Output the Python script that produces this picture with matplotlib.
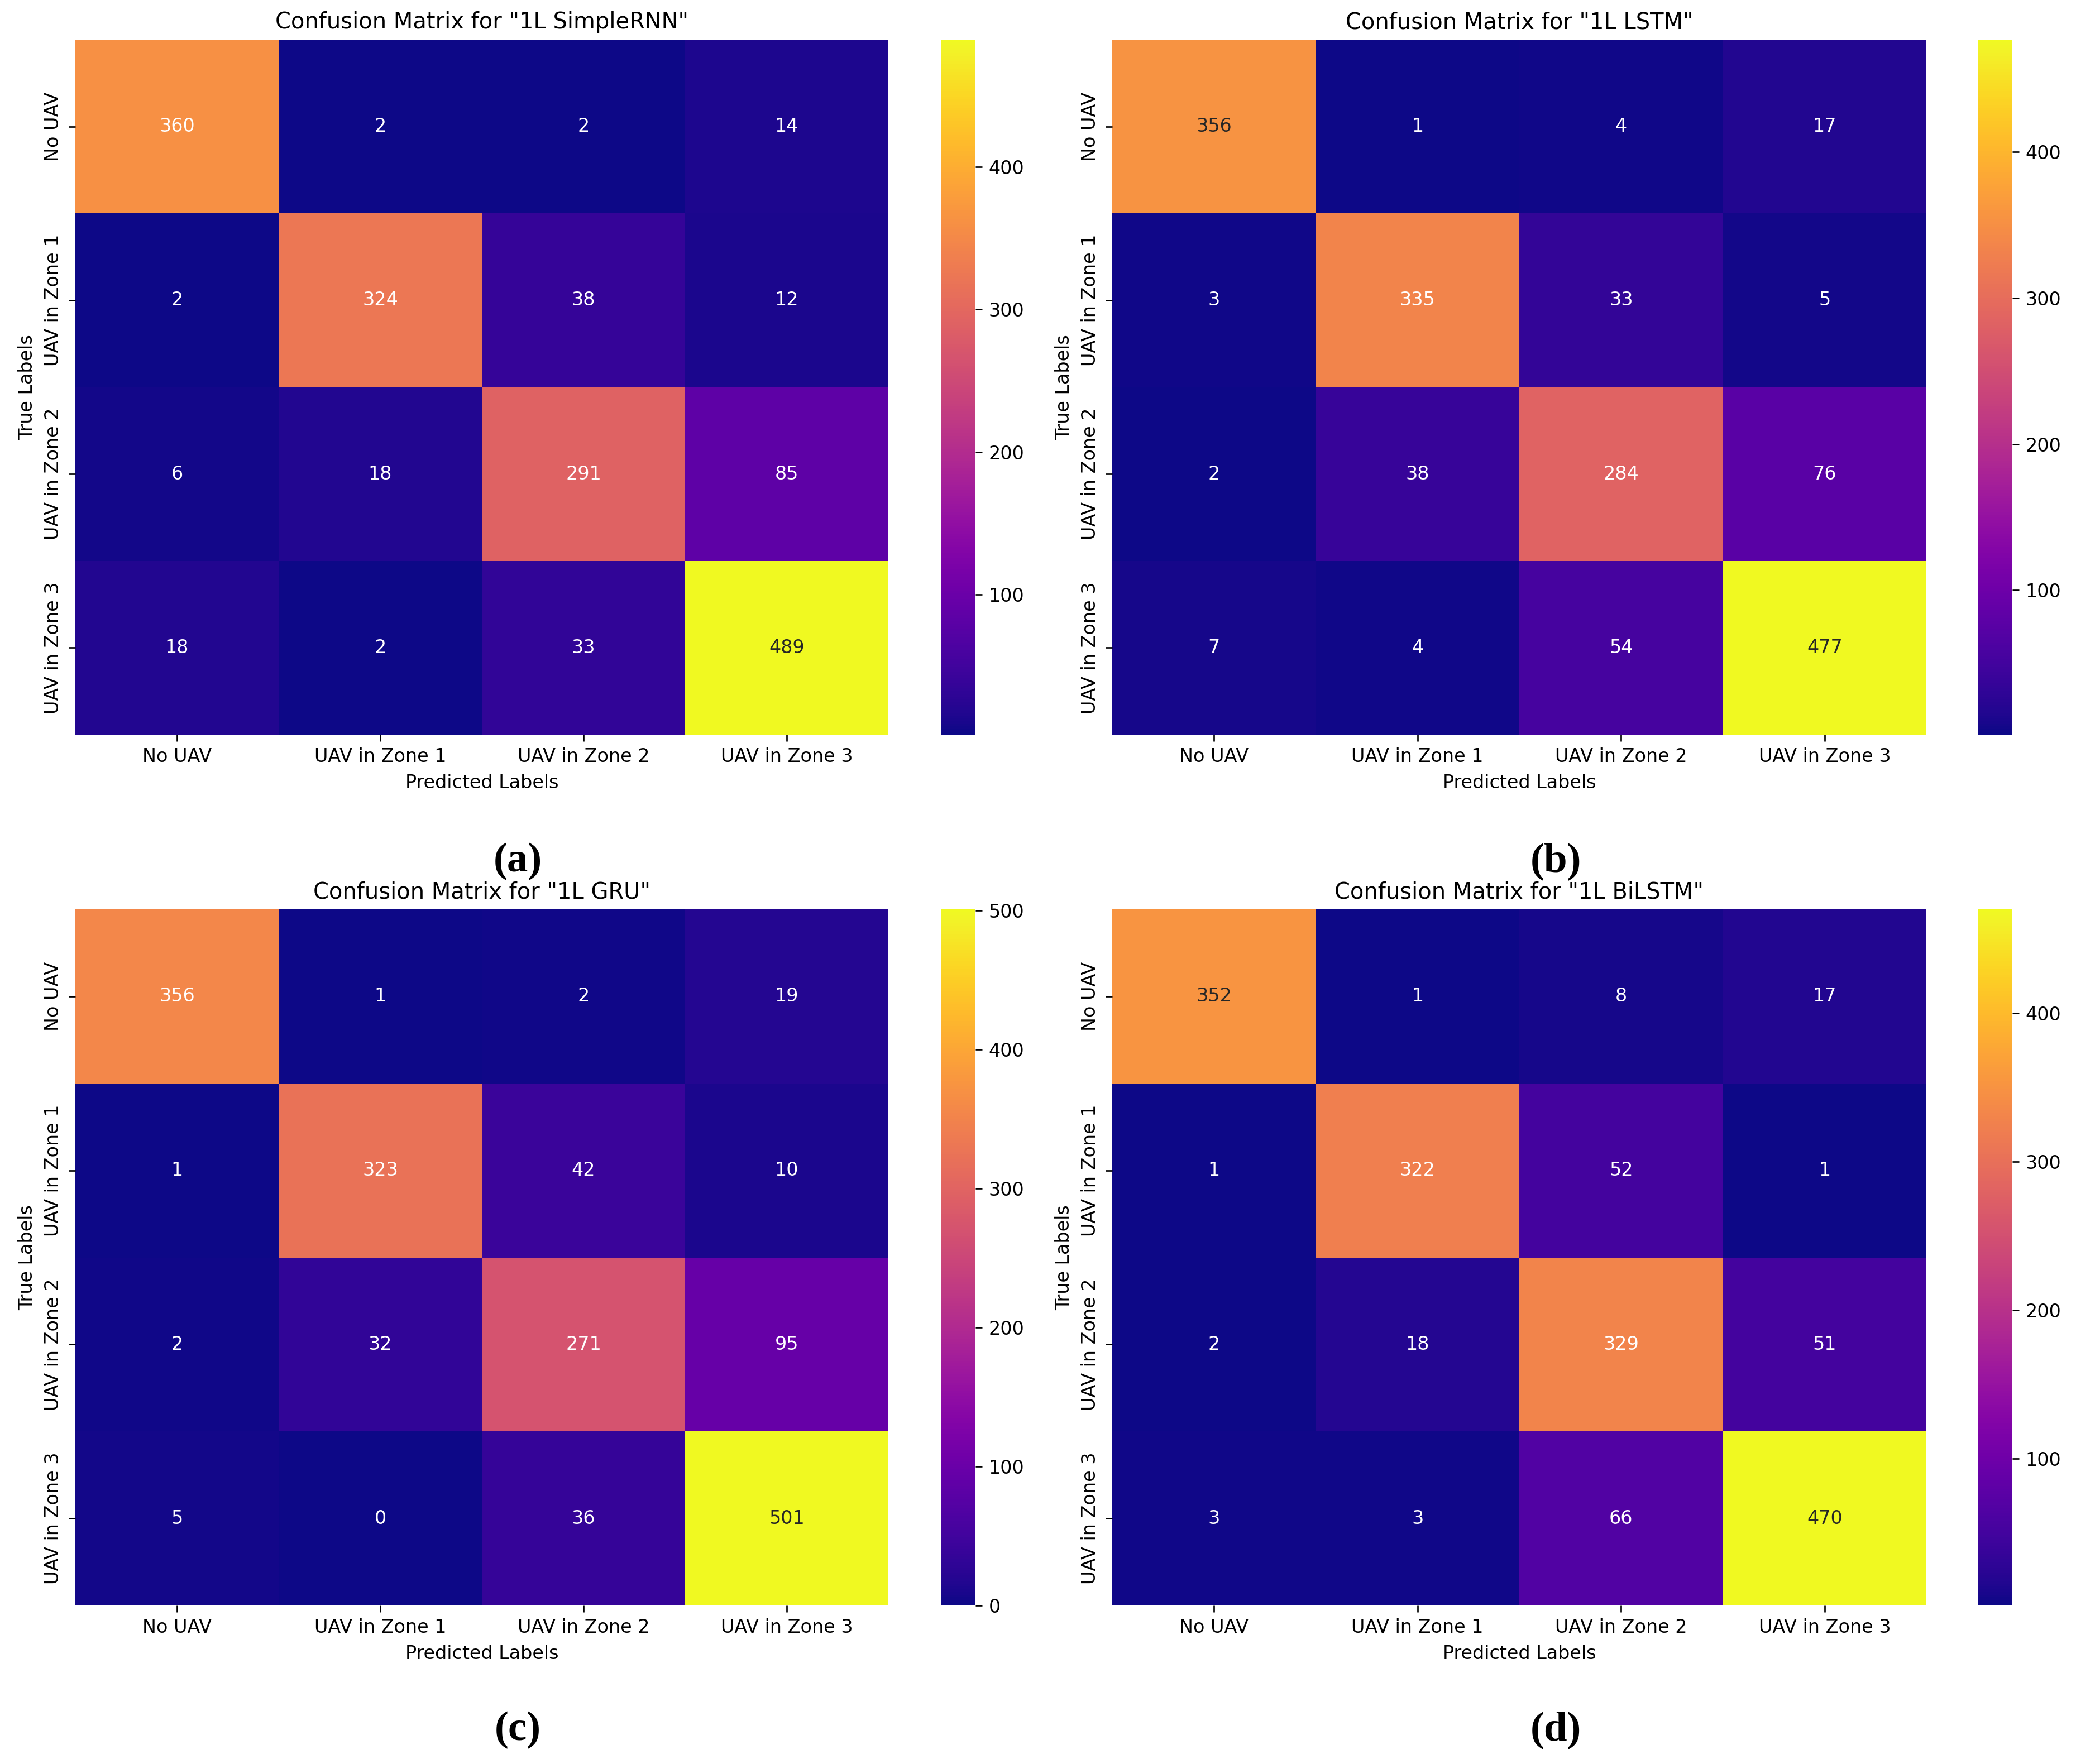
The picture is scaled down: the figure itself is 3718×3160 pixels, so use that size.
import numpy as np
import matplotlib
matplotlib.use("Agg")
import matplotlib.pyplot as plt
import seaborn as sns

# class names (rows = true, cols = predicted)
labels = ["No UAV", "UAV in Zone 1", "UAV in Zone 2", "UAV in Zone 3"]

# confusion matrices
cm_rnn = [[360, 2, 2, 14],
          [2, 324, 38, 12],
          [6, 18, 291, 85],
          [18, 2, 33, 489]]
cm_lstm = [[356, 1, 4, 17],
           [3, 335, 33, 5],
           [2, 38, 284, 76],
           [7, 4, 54, 477]]
cm_gru = [[356, 1, 2, 19],
          [1, 323, 42, 10],
          [2, 32, 271, 95],
          [5, 0, 36, 501]]
cm_bilstm = [[352, 1, 8, 17],
             [1, 322, 52, 1],
             [2, 18, 329, 51],
             [3, 3, 66, 470]]

models = ["1L SimpleRNN", "1L LSTM", "1L GRU", "1L BiLSTM"]
matrices = [cm_rnn, cm_lstm, cm_gru, cm_bilstm]
tags = ["(a)", "(b)", "(c)", "(d)"]

s = 2.4
plt.rcParams.update({
    "font.size": 10 * s,
    "axes.titlesize": 12 * s,
    "axes.labelsize": 10 * s,
    "xtick.labelsize": 10 * s,
    "ytick.labelsize": 10 * s,
    "xtick.major.size": 3.5 * s,
    "ytick.major.size": 3.5 * s,
    "xtick.major.width": 0.8 * s,
    "ytick.major.width": 0.8 * s,
    "xtick.major.pad": 3.5 * s,
    "ytick.major.pad": 3.5 * s,
    "axes.titlepad": 6 * s,
    "axes.labelpad": 4 * s,
})

W, H = 3718, 3160
fig = plt.figure(figsize=(W / 100, H / 100), dpi=100)

# pixel boxes for heatmap / colorbar in the original layout
cols = [(135, 1591, 1686, 1747), (1992, 3450, 3542, 3604)]
rows = [(71, 1316), (1629, 2876)]
tag_x = [927, 2786]
tag_y = [1543, 3099]

for i, (name, cm) in enumerate(zip(models, matrices)):
    r, c = divmod(i, 2)
    x0, x1, cx0, cx1 = cols[c]
    y0, y1 = rows[r]
    ax = fig.add_axes([x0 / W, 1 - y1 / H, (x1 - x0) / W, (y1 - y0) / H])
    cax = fig.add_axes([cx0 / W, 1 - y1 / H, (cx1 - cx0) / W, (y1 - y0) / H])
    sns.heatmap(np.array(cm), annot=True, fmt="d", cmap="plasma",
                xticklabels=labels, yticklabels=labels, ax=ax, cbar_ax=cax,
                annot_kws={"size": 10 * s})
    ax.set_title(f'Confusion Matrix for "{name}"')
    ax.set_xlabel("Predicted Labels")
    ax.set_ylabel("True Labels")
    cax.tick_params(labelsize=10 * s)
    fig.text(tag_x[c] / W, 1 - tag_y[r] / H, tags[i], ha="center", va="center",
             fontsize=54, fontweight="bold", family=["Liberation Serif", "DejaVu Serif"])

fig.savefig("out.png", dpi=100)
